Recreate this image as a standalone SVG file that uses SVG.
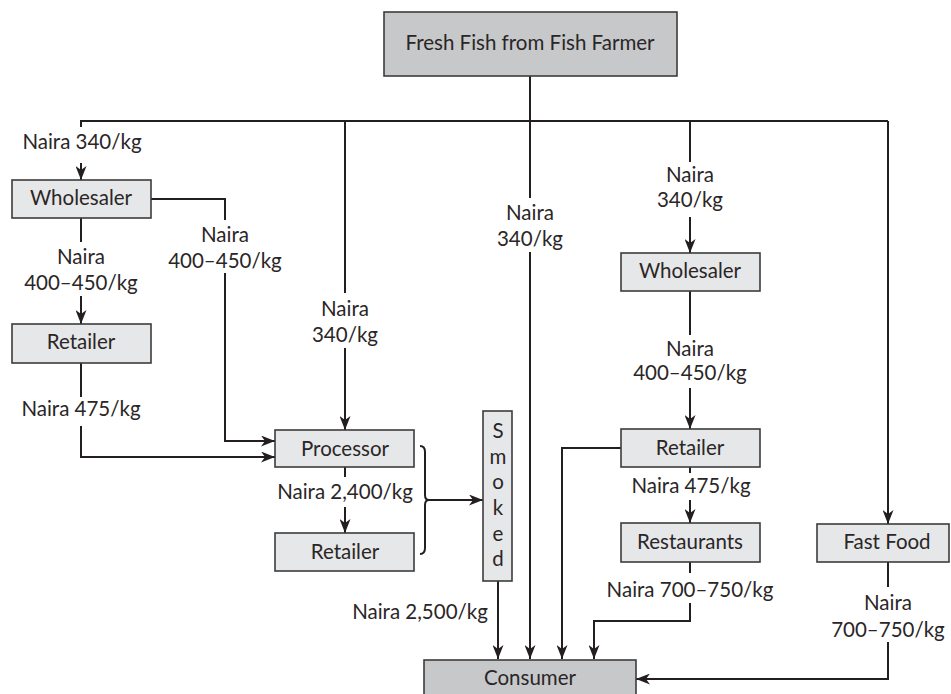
<svg xmlns="http://www.w3.org/2000/svg" width="951" height="694" viewBox="0 0 951 694">
  <style>
    text { font-family: "Lato", "Liberation Sans", sans-serif; font-size: 20.5px; fill: #2a2627; text-anchor: middle; }
    .box { fill: #e6e7e8; stroke: #3c3c3c; stroke-width: 1.6; }
    .dark { fill: #c7c8ca; stroke: #3c3c3c; stroke-width: 1.6; }
    .ln { fill: none; stroke: #231f20; stroke-width: 2; }
    .arr { marker-end: url(#ah); }
  </style>
  <defs>
    <marker id="ah" markerUnits="userSpaceOnUse" markerWidth="15" markerHeight="11" refX="14" refY="5.5" orient="auto">
      <path d="M0,0 L14,5.5 L0,11 L4,5.5 Z" fill="#231f20"/>
    </marker>
  </defs>

  <rect width="951" height="694" fill="#ffffff"/>

  <!-- connectors -->
  <g id="connectors">
    <path class="ln" d="M530,76 V121"/>
    <path class="ln" d="M81,127 V121 H888"/>
    <path class="ln arr" d="M81,163 V180"/>
    <path class="ln" d="M81,218 V242"/>
    <path class="ln arr" d="M81,296 V324"/>
    <path class="ln" d="M81,363 V397"/>
    <path class="ln arr" d="M81,426 V457 H275"/>
    <path class="ln" d="M151,199 H225 V220"/>
    <path class="ln arr" d="M225,273 V441 H275"/>
    <path class="ln" d="M345,121 V293"/>
    <path class="ln arr" d="M345,348 V430"/>
    <path class="ln" d="M345,467 V477"/>
    <path class="ln arr" d="M345,507 V533"/>
    <path class="ln" d="M420,446 Q425,446 425,452 V495 Q425,500 429,500 Q425,500 425,505 V548 Q425,554 420,554"/>
    <path class="ln arr" d="M429,500 H483"/>
    <path class="ln arr" d="M498,581 V659"/>
    <path class="ln" d="M530,121 V198"/>
    <path class="ln arr" d="M530,252 V659"/>
    <path class="ln arr" d="M621,448 H562 V659"/>
    <path class="ln" d="M690,121 V162"/>
    <path class="ln arr" d="M690,217 V253"/>
    <path class="ln" d="M690,291 V335"/>
    <path class="ln arr" d="M690,388 V429"/>
    <path class="ln" d="M690,467 V473"/>
    <path class="ln arr" d="M690,500 V523"/>
    <path class="ln" d="M690,562 V573"/>
    <path class="ln arr" d="M690,603 V621 H594 V659"/>
    <path class="ln arr" d="M888,121 V524"/>
    <path class="ln" d="M888,562 V587"/>
    <path class="ln arr" d="M888,642 V679 H636"/>
  </g>

  <!-- price labels -->
  <g id="labels">
    <text x="82" y="149">Naira 340/kg</text>
    <text x="81" y="264">Naira</text>
    <text x="81" y="290">400–450/kg</text>
    <text x="225" y="242">Naira</text>
    <text x="225" y="268">400–450/kg</text>
    <text x="81" y="416">Naira 475/kg</text>
    <text x="345" y="316">Naira</text>
    <text x="345" y="342">340/kg</text>
    <text x="345" y="499">Naira 2,400/kg</text>
    <text x="420" y="619">Naira 2,500/kg</text>
    <text x="530" y="220">Naira</text>
    <text x="530" y="246">340/kg</text>
    <text x="690" y="182">Naira</text>
    <text x="690" y="207">340/kg</text>
    <text x="690" y="356">Naira</text>
    <text x="690" y="380">400–450/kg</text>
    <text x="691" y="493">Naira 475/kg</text>
    <text x="690" y="597">Naira 700–750/kg</text>
    <text x="888" y="610">Naira</text>
    <text x="888" y="637">700–750/kg</text>
  </g>

  <!-- nodes -->
  <g id="farmer">
    <rect class="dark" x="384" y="12" width="293" height="64"/>
    <text x="530" y="50">Fresh Fish from Fish Farmer</text>
  </g>
  <g id="wholesaler-left">
    <rect class="box" x="12" y="180" width="139" height="38"/>
    <text x="81" y="205">Wholesaler</text>
  </g>
  <g id="retailer-left">
    <rect class="box" x="12" y="324" width="139" height="39"/>
    <text x="81" y="349">Retailer</text>
  </g>
  <g id="processor">
    <rect class="box" x="275" y="430" width="139" height="37"/>
    <text x="345" y="456">Processor</text>
  </g>
  <g id="retailer-smoked">
    <rect class="box" x="275" y="533" width="139" height="38"/>
    <text x="345" y="559">Retailer</text>
  </g>
  <g id="smoked">
    <rect class="box" x="483" y="411" width="29" height="170"/>
    <text x="498" y="438">S</text>
    <text x="498" y="464">m</text>
    <text x="498" y="489">o</text>
    <text x="498" y="515">k</text>
    <text x="498" y="541">e</text>
    <text x="498" y="566">d</text>
  </g>
  <g id="wholesaler-right">
    <rect class="box" x="621" y="253" width="139" height="38"/>
    <text x="690" y="278">Wholesaler</text>
  </g>
  <g id="retailer-right">
    <rect class="box" x="621" y="429" width="139" height="38"/>
    <text x="690" y="455">Retailer</text>
  </g>
  <g id="restaurants">
    <rect class="box" x="621" y="523" width="139" height="39"/>
    <text x="690" y="549">Restaurants</text>
  </g>
  <g id="fast-food">
    <rect class="box" x="817" y="524" width="132" height="38"/>
    <text x="887" y="549">Fast Food</text>
  </g>
  <g id="consumer">
    <rect class="dark" x="424" y="660" width="212" height="40"/>
    <text x="530" y="685">Consumer</text>
  </g>
</svg>
